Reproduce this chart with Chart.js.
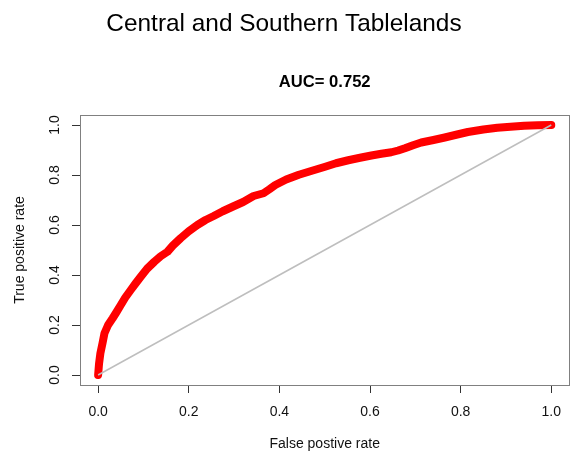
<!DOCTYPE html>
<html>
<head>
<meta charset="utf-8">
<script src="https://cdn.jsdelivr.net/npm/chart.js@4/dist/chart.umd.min.js"></script>
<style>
  html, body { margin: 0; padding: 0; background: #fff; }
  #wrap { width: 570px; height: 451px; overflow: hidden; position: relative; }
  canvas { display: block; }
</style>
</head>
<body>
<div id="wrap"><canvas id="roc" width="572" height="451"></canvas></div>
<script>
// ROC curve: false positive rate vs true positive rate
const fpr = [0, 0.002, 0.005, 0.010, 0.014, 0.022, 0.032, 0.040, 0.050, 0.060,
             0.072, 0.083, 0.094, 0.108, 0.124, 0.138, 0.153, 0.165, 0.182, 0.200,
             0.219, 0.237, 0.255, 0.275, 0.299, 0.320, 0.343, 0.365, 0.378, 0.391,
             0.415, 0.443, 0.470, 0.501, 0.525, 0.552, 0.578, 0.603, 0.625, 0.647,
             0.662, 0.677, 0.695, 0.713, 0.740, 0.765, 0.790, 0.816, 0.850, 0.881,
             0.910, 0.940, 0.970, 1.000];
const tpr = [0, 0.045, 0.087, 0.130, 0.167, 0.200, 0.227, 0.250, 0.280, 0.310,
             0.340, 0.367, 0.393, 0.425, 0.453, 0.475, 0.493, 0.518, 0.547, 0.575,
             0.600, 0.620, 0.636, 0.655, 0.675, 0.692, 0.716, 0.727, 0.743, 0.760,
             0.782, 0.801, 0.816, 0.833, 0.847, 0.859, 0.869, 0.878, 0.885, 0.891,
             0.898, 0.907, 0.919, 0.930, 0.940, 0.950, 0.961, 0.972, 0.982, 0.989,
             0.993, 0.997, 0.999, 1.000];

// Chance line
const chanceX = [0, 1];
const chanceY = [0, 1];

// Axis ticks
const xTicks = [0, 0.2, 0.4, 0.6, 0.8, 1.0];
const yTicks = [0, 0.2, 0.4, 0.6, 0.8, 1.0];

const mainTitle = 'Central and Southern Tablelands';
const aucTitle = 'AUC= 0.752';

Chart.defaults.font.family = '"Liberation Sans", Arial, sans-serif';
Chart.defaults.color = '#111';

const rocPoints = fpr.map((x, i) => ({ x: x, y: tpr[i] }));
const chancePoints = chanceX.map((x, i) => ({ x: x, y: chanceY[i] }));

// Frame around the plotting region and the two titles above it
const framePlugin = {
  id: 'frameAndTitles',
  afterDraw(chart) {
    const { ctx, chartArea: a } = chart;
    ctx.save();
    ctx.strokeStyle = '#808080';
    ctx.lineWidth = 1;
    ctx.strokeRect(Math.round(a.left) + 0.5, Math.round(a.top) + 0.5,
                   Math.round(a.right - a.left), Math.round(a.bottom - a.top));
    ctx.fillStyle = '#000';
    ctx.textAlign = 'center';
    ctx.textBaseline = 'alphabetic';
    ctx.font = '24.4px "Liberation Sans", Arial, sans-serif';
    ctx.fillText(mainTitle, 284, 31);
    ctx.font = 'bold 16.6px "Liberation Sans", Arial, sans-serif';
    ctx.fillText(aucTitle, (a.left + a.right) / 2, 87);
    ctx.restore();
  }
};

new Chart(document.getElementById('roc'), {
  type: 'line',
  data: {
    datasets: [
      {
        label: 'chance',
        data: chancePoints,
        borderColor: '#bebebe',
        borderWidth: 1.5,
        pointRadius: 0,
        order: 0
      },
      {
        label: 'ROC',
        data: rocPoints,
        borderColor: '#ff0000',
        borderWidth: 8,
        borderCapStyle: 'round',
        borderJoinStyle: 'round',
        pointRadius: 0,
        tension: 0,
        order: 1
      }
    ]
  },
  options: {
    responsive: false,
    animation: false,
    events: [],
    layout: { padding: { top: 115, left: 0, right: 0, bottom: 0 } },
    plugins: {
      legend: { display: false },
      tooltip: { enabled: false },
      title: { display: false }
    },
    scales: {
      x: {
        type: 'linear',
        position: 'bottom',
        min: -0.04,
        max: 1.04,
        afterBuildTicks(scale) { scale.ticks = xTicks.map(v => ({ value: v })); },
        afterFit(scale) { scale.height = 66; },
        border: { display: false },
        grid: {
          drawOnChartArea: false,
          drawTicks: true,
          tickLength: 8,
          tickColor: '#333',
          lineWidth: 1
        },
        ticks: {
          font: { size: 14 },
          color: '#111',
          padding: 11,
          maxRotation: 0,
          callback: v => Number(v).toFixed(1)
        },
        title: {
          display: true,
          text: 'False postive rate',
          font: { size: 14, lineHeight: 1 },
          color: '#111',
          padding: { top: 0, bottom: 0 }
        }
      },
      y: {
        type: 'linear',
        position: 'left',
        min: -0.04,
        max: 1.04,
        afterBuildTicks(scale) { scale.ticks = yTicks.map(v => ({ value: v })); },
        afterFit(scale) { scale.width = 80; },
        border: { display: false },
        grid: {
          drawOnChartArea: false,
          drawTicks: true,
          tickLength: 8,
          tickColor: '#333',
          lineWidth: 1
        },
        ticks: {
          font: { size: 14 },
          color: '#111',
          padding: 7,
          minRotation: 90,
          maxRotation: 90,
          crossAlign: 'center',
          callback: v => Number(v).toFixed(1)
        },
        title: {
          display: true,
          text: 'True positive rate',
          font: { size: 14, lineHeight: 1 },
          color: '#111',
          padding: { top: 13, bottom: 0 }
        }
      }
    }
  },
  plugins: [framePlugin]
});
</script>
</body>
</html>
